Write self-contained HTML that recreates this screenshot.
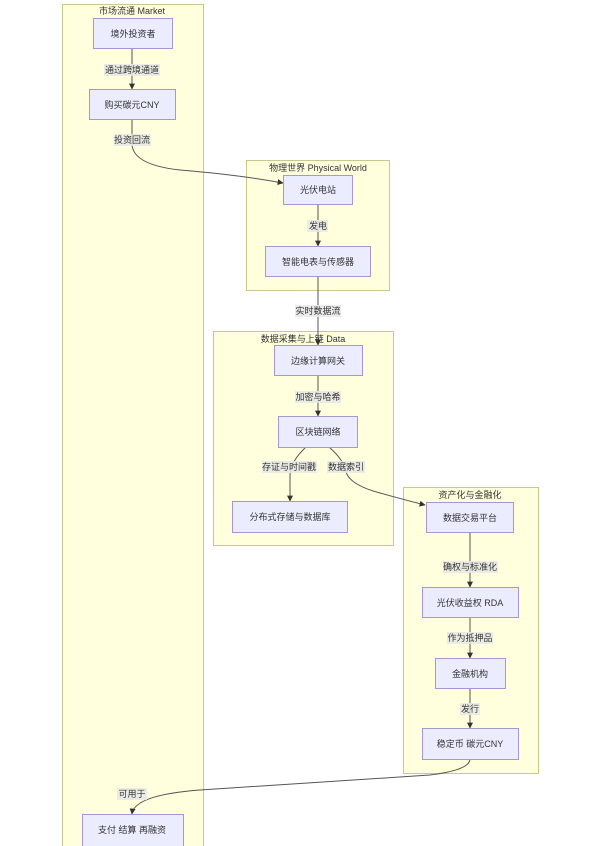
<!DOCTYPE html>
<html><head><meta charset="utf-8">
<style>
html,body{margin:0;padding:0;background:#fff;}
svg{display:block;}
text{font-family:"Liberation Sans","Noto Sans CJK SC",sans-serif;font-size:9px;fill:#333;}
.cl{fill:#ffffde;stroke:#c8c88a;stroke-width:1;}
.nd{fill:#ececff;stroke:#a596d8;stroke-width:1;}
.ed{fill:none;stroke:#555;stroke-width:1;}
.lb{fill:#e8e8e8;opacity:0.85;}
</style></head>
<body>
<svg width="600" height="846" viewBox="0 0 600 846" xmlns="http://www.w3.org/2000/svg">
<defs>
<marker id="ar" viewBox="0 0 10 10" refX="9" refY="5" markerWidth="6" markerHeight="6" orient="auto">
<path d="M0,0 L10,5 L0,10 z" fill="#333"/>
</marker>
</defs>
<!-- clusters -->
<rect class="cl" x="62.5" y="4.5" width="141" height="850"/>
<rect class="cl" x="246.5" y="160.5" width="143" height="130"/>
<rect class="cl" x="213.5" y="331.5" width="180" height="214"/>
<rect class="cl" x="403.5" y="487.5" width="135" height="286"/>
<text x="132" y="14" text-anchor="middle">市场流通 Market</text>
<text x="318" y="171" text-anchor="middle">物理世界 Physical World</text>
<text x="303" y="342" text-anchor="middle">数据采集与上链 Data</text>
<text x="470" y="498" text-anchor="middle">资产化与金融化</text>

<!-- edges -->
<path class="ed" d="M132,48 L132,89" marker-end="url(#ar)"/>
<path class="ed" d="M132,119 L132,145 Q134,165 180,170 Q240,175 283,183" marker-end="url(#ar)"/>
<path class="ed" d="M318,204 L318,246" marker-end="url(#ar)"/>
<path class="ed" d="M318,276 L318,345" marker-end="url(#ar)"/>
<path class="ed" d="M318,375 L318,416" marker-end="url(#ar)"/>
<path class="ed" d="M306,447 Q290,462 290,475 L290,501" marker-end="url(#ar)"/>
<path class="ed" d="M329,447 Q344,460 346,472 Q350,485 380,493 Q405,500 425,505" marker-end="url(#ar)"/>
<path class="ed" d="M470,532 L470,587" marker-end="url(#ar)"/>
<path class="ed" d="M470,617 L470,658" marker-end="url(#ar)"/>
<path class="ed" d="M470,688 L470,728" marker-end="url(#ar)"/>
<path class="ed" d="M470,759 Q470,770 430,775 Q300,783 200,790 Q134,795 132,814" marker-end="url(#ar)"/>

<!-- edge labels -->
<rect class="lb" x="104" y="64" width="56" height="12"/>
<text x="132" y="73" text-anchor="middle">通过跨境通道</text>
<rect class="lb" x="114" y="134" width="37" height="12"/>
<text x="132" y="143" text-anchor="middle">投资回流</text>
<rect class="lb" x="307" y="220" width="21" height="12"/>
<text x="318" y="229" text-anchor="middle">发电</text>
<rect class="lb" x="295" y="305" width="46" height="12"/>
<text x="318" y="314" text-anchor="middle">实时数据流</text>
<rect class="lb" x="295" y="391" width="46" height="12"/>
<text x="318" y="400" text-anchor="middle">加密与哈希</text>
<rect class="lb" x="262" y="461" width="55" height="12"/>
<text x="289" y="470" text-anchor="middle">存证与时间戳</text>
<rect class="lb" x="327" y="461" width="38" height="12"/>
<text x="346" y="470" text-anchor="middle">数据索引</text>
<rect class="lb" x="443" y="561" width="55" height="12"/>
<text x="470" y="570" text-anchor="middle">确权与标准化</text>
<rect class="lb" x="447" y="632" width="46" height="12"/>
<text x="470" y="641" text-anchor="middle">作为抵押品</text>
<rect class="lb" x="460" y="703" width="20" height="12"/>
<text x="470" y="712" text-anchor="middle">发行</text>
<rect class="lb" x="117" y="788" width="30" height="12"/>
<text x="132" y="797" text-anchor="middle">可用于</text>

<!-- nodes -->
<rect class="nd" x="93.5" y="18.5" width="79" height="30"/>
<text x="133" y="37" text-anchor="middle">境外投资者</text>
<rect class="nd" x="89.5" y="89.5" width="86" height="30"/>
<text x="132" y="108" text-anchor="middle">购买碳元CNY</text>
<rect class="nd" x="283.5" y="175.5" width="69" height="29"/>
<text x="318" y="193" text-anchor="middle">光伏电站</text>
<rect class="nd" x="265.5" y="246.5" width="105" height="30"/>
<text x="318" y="265" text-anchor="middle">智能电表与传感器</text>
<rect class="nd" x="274.5" y="345.5" width="88" height="30"/>
<text x="318" y="364" text-anchor="middle">边缘计算网关</text>
<rect class="nd" x="278.5" y="416.5" width="79" height="31"/>
<text x="318" y="435" text-anchor="middle">区块链网络</text>
<rect class="nd" x="232.5" y="501.5" width="115" height="31"/>
<text x="290" y="520" text-anchor="middle">分布式存储与数据库</text>
<rect class="nd" x="426.5" y="502.5" width="87" height="30"/>
<text x="470" y="521" text-anchor="middle">数据交易平台</text>
<rect class="nd" x="422.5" y="587.5" width="96" height="30"/>
<text x="470" y="606" text-anchor="middle">光伏收益权 RDA</text>
<rect class="nd" x="435.5" y="658.5" width="70" height="30"/>
<text x="470" y="677" text-anchor="middle">金融机构</text>
<rect class="nd" x="422.5" y="728.5" width="96" height="31"/>
<text x="470" y="747" text-anchor="middle">稳定币 碳元CNY</text>
<rect class="nd" x="82.5" y="814.5" width="101" height="40"/>
<text x="132" y="833" text-anchor="middle">支付 结算 再融资</text>
</svg>
</body></html>
